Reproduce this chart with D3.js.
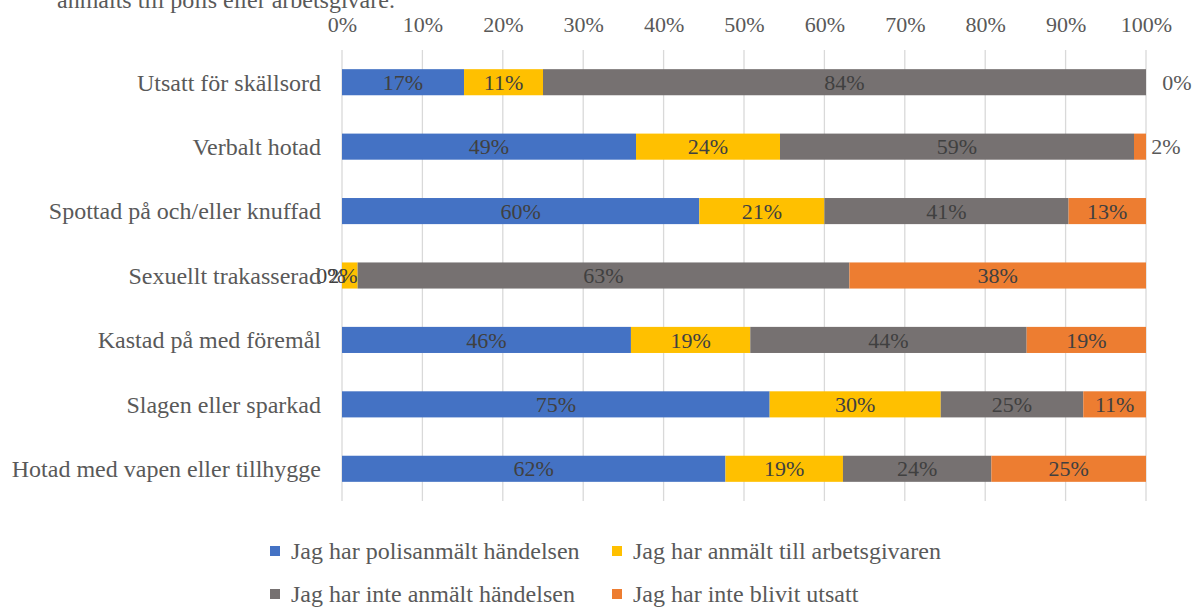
<!DOCTYPE html>
<html><head><meta charset="utf-8">
<script src="https://cdn.jsdelivr.net/npm/d3@7"></script>
<style>body{margin:0;background:#fff}svg{display:block}</style>
</head><body>
<svg id="chart" width="1200" height="607"></svg>
<script>
const categories = ["Utsatt för skällsord","Verbalt hotad","Spottad på och/eller knuffad","Sexuellt trakasserad","Kastad på med föremål","Slagen eller sparkad","Hotad med vapen eller tillhygge"];
const seriesNames = ["Jag har polisanmält händelsen","Jag har anmält till arbetsgivaren","Jag har inte anmält händelsen","Jag har inte blivit utsatt"];
const polis = [17,49,60,0,46,75,62];
const arbetsgivare = [11,24,21,2,19,30,19];
const inteAnmalt = [84,59,41,63,44,25,24];
const inteUtsatt = [0,2,13,38,19,11,25];
const colors = ["#4472C4","#FFC000","#767171","#ED7D31"];
const ticks = [0,0.1,0.2,0.3,0.4,0.5,0.6,0.7,0.8,0.9,1];
const titleText = "anmälts till polis eller arbetsgivare.";

(function(){
const svg = d3.select("#chart");
const font = "'Liberation Serif','Times New Roman',serif";
const pL = 342, pR = 1146, pT = 50, pB = 501;

const x = d3.scaleLinear().domain([0,1]).range([pL,pR]);
const y = d3.scaleBand().domain(categories).range([pT,pB]).paddingInner(0.595).paddingOuter(0.2975);

svg.append("text").attr("x",57).attr("y",8).attr("font-family",font).attr("font-size",24).attr("fill","#595959").text(titleText);

// gridlines
svg.append("g").selectAll("line").data(ticks).join("line")
  .attr("x1",d=>x(d)).attr("x2",d=>x(d)).attr("y1",pT).attr("y2",pB)
  .attr("stroke","#D9D9D9").attr("stroke-width",1.3);

// top axis
const axis = d3.axisTop(x).tickValues(ticks).tickFormat(d3.format(".0%")).tickSize(0).tickPadding(0);
const ag = svg.append("g").attr("transform",`translate(0,32)`).call(axis);
ag.select(".domain").remove();
ag.selectAll("text").attr("font-family",font).attr("font-size",22).attr("fill","#595959");

const series = [polis,arbetsgivare,inteAnmalt,inteUtsatt];
const rows = categories.map((c,i)=>{
  const vals = series.map(s=>s[i]);
  const tot = d3.sum(vals);
  let acc = 0;
  return vals.map((v,j)=>{const s={cat:c,v,j,x0:acc/tot,x1:(acc+v)/tot}; acc+=v; return s;});
});
const segs = rows.flat();

svg.append("g").selectAll("rect").data(segs).join("rect")
  .attr("x",d=>x(d.x0)).attr("width",d=>x(d.x1)-x(d.x0))
  .attr("y",d=>y(d.cat)).attr("height",y.bandwidth())
  .attr("fill",d=>colors[d.j]);

const outside = d=> d.j===3 && (x(d.x1)-x(d.x0))<15;

// data labels
svg.append("g").selectAll("text").data(segs).join("text")
  .attr("x",d=>{
    const w = x(d.x1)-x(d.x0);
    if (outside(d)) return x(d.x1)+ (d.v===0?31:20);
    if (d.j===0 && w<1) return x(d.x0)-11;
    if (w<20) return (x(d.x0)+x(d.x1))/2-7;
    return (x(d.x0)+x(d.x1))/2;
  })
  .attr("y",d=>y(d.cat)+y.bandwidth()/2)
  .attr("dy","0.35em").attr("text-anchor","middle")
  .attr("font-family",font).attr("font-size",22)
  .attr("fill",d=>outside(d)?"#595959":"#404040")
  .text(d=>d.v+"%");

// category labels
svg.append("g").selectAll("text").data(categories).join("text")
  .attr("x",321).attr("y",d=>y(d)+y.bandwidth()/2).attr("dy","0.35em")
  .attr("text-anchor","end").attr("font-family",font).attr("font-size",24).attr("fill","#595959")
  .text(d=>d);

// legend
const legPos = [[270,551],[612,551],[270,594],[612,594]];
const lg = svg.append("g").selectAll("g").data(seriesNames).join("g")
  .attr("transform",(d,i)=>`translate(${legPos[i][0]},${legPos[i][1]})`);
lg.append("rect").attr("x",0).attr("y",-5).attr("width",10).attr("height",10).attr("fill",(d,i)=>colors[i]);
lg.append("text").attr("x",21).attr("y",0).attr("dy","0.35em").attr("font-family",font).attr("font-size",24).attr("fill","#595959").text(d=>d);
})();
</script>
</body></html>
